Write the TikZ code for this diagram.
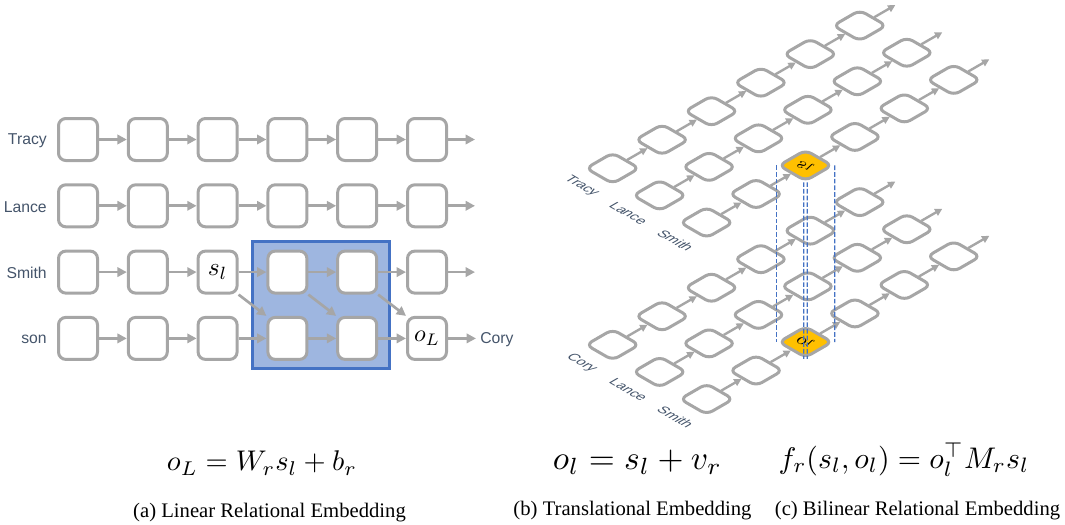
\documentclass[tikz,border=0pt]{standalone}
\usepackage{fontspec}
\setsansfont{Liberation Sans}
\newfontfamily\capfont{Liberation Serif}
\usetikzlibrary{arrows.meta}
\definecolor{boxgray}{RGB}{166,166,166}
\definecolor{lblcol}{RGB}{68,84,106}
\definecolor{hlfill}{RGB}{158,182,224}
\definecolor{hledge}{RGB}{68,114,196}
\definecolor{goldcol}{RGB}{255,192,0}
\tikzset{
 cell/.style={draw=boxgray, line width=2.25pt, rounded corners=5.5pt, fill=white, minimum width=29.25pt, minimum height=31.5pt, inner sep=0pt},
 conn/.style={draw=boxgray, line width=2pt, -{Triangle[length=7pt,width=7pt]}},
 rowlabel/.style={font=\sffamily\fontsize{11.8}{14}\selectfont, text=lblcol},
 isocell/.style={draw=boxgray, line width=2.25pt, rounded corners=5pt, minimum size=23pt, inner sep=0pt, transform shape},
 isoconn/.style={draw=boxgray, line width=1.8pt, -{Triangle[length=5.5pt,width=5.5pt]}},
 isolabel/.style={transform shape, yscale=-1, font=\sffamily\fontsize{10.4}{12}\selectfont, text=lblcol, inner sep=0pt},
 dline/.style={draw=hledge, line width=0.9pt, dash pattern=on 3.5pt off 1.5pt},
 capstyle/.style={font=\capfont\fontsize{15.5}{18}\selectfont, inner sep=0pt},
}
\begin{document}
\begin{tikzpicture}[x=0.75pt,y=-0.75pt]
\useasboundingbox (0,0) rectangle (1065,525);
% ---------- (a) ----------
\draw[fill=hlfill, draw=hledge, line width=2.25pt] (252.5,241.5) rectangle (389.5,368.5);
\foreach \r in {0,...,3}{
 \foreach \c in {0,...,5}{
  \node[cell] (a-\r-\c) at ({78+69.8*\c},{139.5+66.3*\r}) {\ifnum\r\c=22 \scalebox{1.9}{$s_l$}\else\ifnum\r\c=35 \scalebox{1.8}{$o_L$}\fi\fi};
 }
}
\foreach \r/\t in {0/Tracy,1/Lance,2/Smith,3/son}
  \node[rowlabel, anchor=east, inner sep=0pt] (al-\r) at (47,{140.5+66.3*\r}) {\t};
\foreach \r in {0,...,3}{
 \foreach \c [evaluate=\c as \n using int(\c+1)] in {0,...,4}{
  \draw[conn] (a-\r-\c.east) -- (a-\r-\n.west);
 }
}
\foreach \r in {0,1,2}{
 \coordinate (ae-\r) at (475,{139.5+66.3*\r});
 \draw[conn] (a-\r-5.east) -- (ae-\r);
}
\node[rowlabel, anchor=west, inner sep=3pt] (cory) at (476,339.5) {Cory};
\draw[conn] (a-3-5.east) -- (a-3-5.east -| cory.west);
\draw[conn] (a-2-2.south east) -- (a-3-3.north west);
\draw[conn] (a-2-3.south east) -- (a-3-4.north west);
\draw[conn] (a-2-4.south east) -- (a-3-5.north west);
% ---------- (b)/(c) top layer ----------
\begin{scope}[cm={0.866,-0.5,-0.866,-0.5,(459.5pt,-126.2pt)}, x=40.7pt, y=42.8pt]
 \foreach \r in {0,1,2}{
  \foreach \c in {0,...,5}{
   \ifnum\r\c=22 \else \node[isocell] (t-\r-\c) at (\r,-\c) {}; \fi
  }
 }
 \node[isocell, fill=goldcol] (t-2-2) at (2,-2) {\scalebox{1.5}{$s_l$}};
 \foreach \r in {0,1,2}{
  \foreach \c [evaluate=\c as \n using int(\c+1)] in {0,...,4}{
   \draw[isoconn] (t-\r-\c.south) -- (t-\r-\n.north);
  }
  \coordinate (t-e-\r) at (\r,-5.72);
  \draw[isoconn] (t-\r-5.south) -- (t-e-\r);
 }
 \node[isolabel] (t-l-0) at (0,0.63) {Tracy};
 \node[isolabel] (t-l-1) at (1,0.63) {Lance};
 \node[isolabel] (t-l-2) at (2,0.63) {Smith};
\end{scope}
% ---------- (b)/(c) bottom layer ----------
\begin{scope}[cm={0.866,-0.5,-0.866,-0.5,(459.5pt,-258.6pt)}, x=40.7pt, y=42.8pt]
 \foreach \r in {0,1,2}{
  \foreach \c in {0,...,5}{
   \ifnum\r\c=22 \else \node[isocell] (b-\r-\c) at (\r,-\c) {}; \fi
  }
 }
 \node[isocell, fill=goldcol] (b-2-2) at (2,-2) {\scalebox{1.5}{$o_l$}};
 \foreach \r in {0,1,2}{
  \foreach \c [evaluate=\c as \n using int(\c+1)] in {0,...,4}{
   \draw[isoconn] (b-\r-\c.south) -- (b-\r-\n.north);
  }
  \coordinate (b-e-\r) at (\r,-5.72);
  \draw[isoconn] (b-\r-5.south) -- (b-e-\r);
 }
 \node[isolabel] (b-l-0) at (0,0.63) {Cory};
 \node[isolabel] (b-l-1) at (1,0.63) {Lance};
 \node[isolabel] (b-l-2) at (2,0.63) {Smith};
\end{scope}
% dashed projection lines
\draw[dline] (t-2-2.north west) -- (b-2-2.north west);
\draw[dline] (t-2-2.south east) -- (b-2-2.south east);
\draw[dline] ([xshift=-1.3pt]t-2-2.north east) -- ([xshift=-1.3pt]b-2-2.north east);
\draw[dline] ([xshift=1.3pt]t-2-2.north east) -- ([xshift=1.3pt]b-2-2.north east);
% ---------- formulas and captions ----------
\node (fa) at (262,463) {\resizebox{142.5pt}{!}{$o_L = W_r s_l + b_r$}};
\node (fb) at (637.5,462) {\resizebox{126.75pt}{!}{$o_l = s_l + v_r$}};
\node (fc) at (904,460) {\resizebox{188pt}{!}{$f_r(s_l, o_l) = o_l^\top M_r s_l$}};
\node[capstyle] (ca) at (269.5,513) {(a) Linear Relational Embedding};
\node[capstyle] (cb) at (632.5,511) {(b) Translational Embedding};
\node[capstyle] (cc) at (917.5,511) {(c) Bilinear Relational Embedding};
\end{tikzpicture}
\end{document}
